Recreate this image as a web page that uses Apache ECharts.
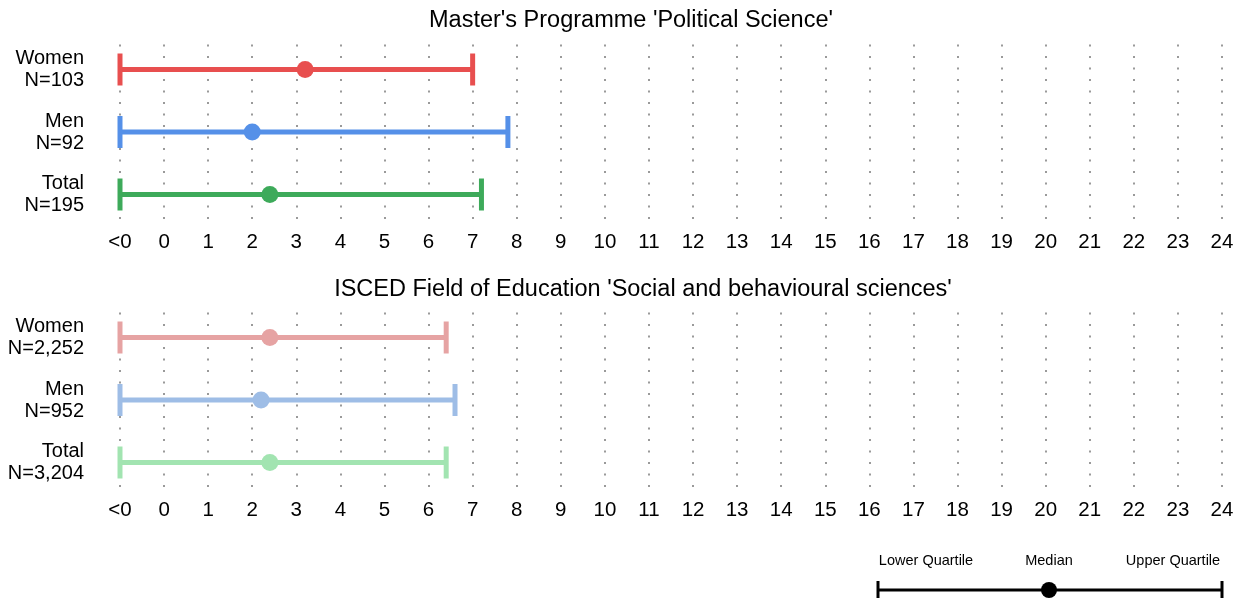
<!DOCTYPE html>
<html>
<head>
<meta charset="utf-8">
<script src="https://cdn.jsdelivr.net/npm/echarts@6/dist/echarts.min.js"></script>
<style>
  html, body { margin: 0; padding: 0; background: #fff; }
  #chart { width: 1241px; height: 598px; }
</style>
</head>
<body>
<div id="chart"></div>
<script>
// x axis ticks (-1 is shown as "<0")
var xTicks = [-1, 0, 1, 2, 3, 4, 5, 6, 7, 8, 9, 10, 11, 12, 13, 14, 15, 16, 17, 18, 19, 20, 21, 22, 23, 24];

// Master's Programme 'Political Science'
var progRows = ['Women\nN=103', 'Men\nN=92', 'Total\nN=195'];
var progLower = [-1, -1, -1];
var progMedian = [3.2, 2.0, 2.4];
var progUpper = [7.0, 7.8, 7.2];
var progColors = ['#e84f4f', '#5590e8', '#3daa5a'];

// ISCED Field of Education 'Social and behavioural sciences'
var iscedRows = ['Women\nN=2,252', 'Men\nN=952', 'Total\nN=3,204'];
var iscedLower = [-1, -1, -1];
var iscedMedian = [2.4, 2.2, 2.4];
var iscedUpper = [6.4, 6.6, 6.4];
var iscedColors = ['#e6a3a3', '#9ebde6', '#a2e4b1'];

var font = 'Liberation Sans, Arial, sans-serif';

function buildData(lower, median, upper) {
  return lower.map(function (v, i) {
    return [i + 1, v, median[i], upper[i]];
  });
}

function renderRange(colors) {
  return function (params, api) {
    var row = api.value(0);
    var lo = api.coord([api.value(1), row]);
    var md = api.coord([api.value(2), row]);
    var up = api.coord([api.value(3), row]);
    var c = colors[params.dataIndex];
    var capH = 16;
    return {
      type: 'group',
      children: [
        { type: 'line', shape: { x1: lo[0], y1: lo[1], x2: up[0], y2: up[1] }, style: { stroke: c, lineWidth: 5 } },
        { type: 'line', shape: { x1: lo[0], y1: lo[1] - capH, x2: lo[0], y2: lo[1] + capH }, style: { stroke: c, lineWidth: 5 } },
        { type: 'line', shape: { x1: up[0], y1: up[1] - capH, x2: up[0], y2: up[1] + capH }, style: { stroke: c, lineWidth: 5 } },
        { type: 'circle', shape: { cx: md[0], cy: md[1], r: 8.5 }, style: { fill: c } }
      ]
    };
  };
}

function xAxisFor(gridIndex) {
  return {
    type: 'value', gridIndex: gridIndex, min: -1, max: 24, interval: 1,
    axisLine: { show: false }, axisTick: { show: false },
    axisLabel: {
      color: '#000', fontSize: 20.5, fontFamily: font, margin: 12,
      formatter: function (v) { return v === -1 ? '<0' : String(v); }
    },
    splitLine: { show: true, lineStyle: { color: '#9a9a9a', width: 2, type: [2, 9.5] } }
  };
}

function yAxisFor(gridIndex, rows) {
  return {
    type: 'value', gridIndex: gridIndex, min: 0.6, max: 3.4, inverse: true,
    axisLine: { show: false }, axisTick: { show: false }, splitLine: { show: false },
    axisLabel: {
      customValues: [1, 2, 3],
      color: '#000', fontSize: 20, lineHeight: 22, fontFamily: font, margin: 36, align: 'right',
      formatter: function (v) { return rows[Math.round(v) - 1] || ''; }
    }
  };
}

var chart = echarts.init(document.getElementById('chart'));

var option = {
  animation: false,
  backgroundColor: '#fff',
  textStyle: { fontFamily: font },
  grid: [
    { left: 120, right: 19, top: 44.5, height: 175 },
    { left: 120, right: 19, top: 312.5, height: 175 }
  ],
  xAxis: [xAxisFor(0), xAxisFor(1)],
  yAxis: [yAxisFor(0, progRows), yAxisFor(1, iscedRows)],
  series: [
    {
      type: 'custom', xAxisIndex: 0, yAxisIndex: 0,
      encode: { x: [1, 2, 3], y: 0 },
      data: buildData(progLower, progMedian, progUpper),
      renderItem: renderRange(progColors)
    },
    {
      type: 'custom', xAxisIndex: 1, yAxisIndex: 1,
      encode: { x: [1, 2, 3], y: 0 },
      data: buildData(iscedLower, iscedMedian, iscedUpper),
      renderItem: renderRange(iscedColors)
    }
  ],
  graphic: [
    { type: 'text', x: 631, y: 21, style: { text: "Master's Programme 'Political Science'", fill: '#000', font: '23.5px ' + font, textAlign: 'center', textVerticalAlign: 'middle' } },
    { type: 'text', x: 643, y: 290, style: { text: "ISCED Field of Education 'Social and behavioural sciences'", fill: '#000', font: '23.5px ' + font, textAlign: 'center', textVerticalAlign: 'middle' } },
    // key
    { type: 'text', x: 926, y: 561, style: { text: 'Lower Quartile', fill: '#000', font: '14.5px ' + font, textAlign: 'center', textVerticalAlign: 'middle' } },
    { type: 'text', x: 1049, y: 561, style: { text: 'Median', fill: '#000', font: '14.5px ' + font, textAlign: 'center', textVerticalAlign: 'middle' } },
    { type: 'text', x: 1173, y: 561, style: { text: 'Upper Quartile', fill: '#000', font: '14.5px ' + font, textAlign: 'center', textVerticalAlign: 'middle' } },
    { type: 'line', shape: { x1: 878, y1: 590, x2: 1222, y2: 590 }, style: { stroke: '#000', lineWidth: 3 } },
    { type: 'line', shape: { x1: 878, y1: 581, x2: 878, y2: 599 }, style: { stroke: '#000', lineWidth: 3 } },
    { type: 'line', shape: { x1: 1222, y1: 581, x2: 1222, y2: 599 }, style: { stroke: '#000', lineWidth: 3 } },
    { type: 'circle', shape: { cx: 1049, cy: 590, r: 8 }, style: { fill: '#000' } }
  ]
};

chart.setOption(option);
window.addEventListener('resize', function () { chart.resize(); });
</script>
</body>
</html>
